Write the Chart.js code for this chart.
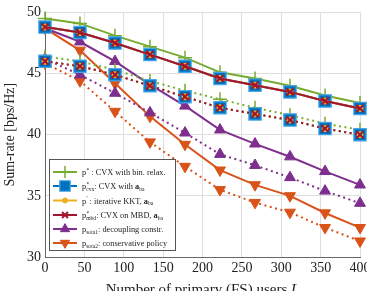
<!DOCTYPE html>
<html>
<head>
<meta charset="utf-8">
<script src="https://cdn.jsdelivr.net/npm/chart.js@4/dist/chart.umd.min.js"></script>
<style>
  html, body { margin: 0; padding: 0; background: #fff; overflow: hidden; }
  #wrap { position: relative; width: 375px; height: 300px; }
</style>
</head>
<body>
<div id="wrap"><canvas id="rateChart" width="375" height="300"></canvas></div>
<script>
// x positions: number of primary (FS) users
const users = [0, 44.4, 88.9, 133.3, 177.8, 222.2, 266.7, 311.1, 355.6, 400];

// solid = first scenario, dotted = second scenario
const pStarSolid   = [49.5, 49.1, 48.1, 47.2, 46.3, 45.1, 44.6, 44.0, 43.2, 42.6];
const pStarDotted  = [46.4, 46.0, 45.3, 44.4, 43.6, 42.9, 42.2, 41.6, 40.9, 40.4];
const pCvxSolid    = [48.8, 48.35, 47.5, 46.55, 45.6, 44.6, 44.05, 43.5, 42.75, 42.15];
const pCvxDotted   = [46.0, 45.6, 44.9, 44.0, 43.1, 42.2, 41.7, 41.2, 40.5, 40.0];
const pKktSolid    = [48.8, 48.35, 47.5, 46.55, 45.6, 44.6, 44.05, 43.5, 42.75, 42.15];
const pKktDotted   = [46.0, 45.6, 44.9, 44.0, 43.1, 42.2, 41.7, 41.2, 40.5, 40.0];
const pMbdSolid    = [48.8, 48.35, 47.5, 46.55, 45.6, 44.6, 44.05, 43.5, 42.75, 42.15];
const pMbdDotted   = [46.0, 45.6, 44.9, 44.0, 43.1, 42.2, 41.7, 41.2, 40.5, 40.0];
const pSota1Solid  = [48.7, 47.6, 46.0, 44.1, 42.35, 40.4, 39.25, 38.2, 37.0, 35.9];
const pSota1Dotted = [46.2, 44.9, 43.4, 41.8, 40.15, 38.4, 37.5, 36.5, 35.4, 34.4];
const pSota2Solid  = [48.7, 46.9, 44.2, 41.5, 39.2, 37.1, 35.9, 35.0, 33.6, 32.4];
const pSota2Dotted = [45.85, 44.4, 41.9, 39.4, 37.4, 35.5, 34.45, 33.65, 32.4, 31.3];

const green = '#77AC30', blue = '#0072BD', yellow = '#EDB120';
const red = '#A2142F', purple = '#7E2F8E', orange = '#D95319';
const serif = '"Liberation Serif", "DejaVu Serif", serif';

// marker look per method
const markers = {
  star:  { pointStyle: 'cross', pointRadius: 7, pointBorderWidth: 1.5, pointBackgroundColor: green, pointBorderColor: green },
  cvx:   { pointStyle: 'rect', pointRadius: 8.7, pointBorderWidth: 1.2, pointBackgroundColor: blue, pointBorderColor: '#45a6ea' },
  kkt:   { pointStyle: 'circle', pointRadius: 3, pointBorderWidth: 1, pointBackgroundColor: yellow, pointBorderColor: yellow },
  mbd:   { pointStyle: 'crossRot', pointRadius: 5, pointBorderWidth: 2, pointBackgroundColor: red, pointBorderColor: red },
  sota1: { pointStyle: 'triangle', pointRadius: 6.3, pointBorderWidth: 1, pointBackgroundColor: purple, pointBorderColor: purple },
  sota2: { pointStyle: 'triangle', pointRotation: 180, pointRadius: 6.3, pointBorderWidth: 1, pointBackgroundColor: orange, pointBorderColor: orange }
};

function series(values, color, kind, dotted, order) {
  return Object.assign({
    data: users.map((x, i) => ({ x: x, y: values[i] })),
    borderColor: color,
    borderWidth: 2,
    borderDash: dotted ? [2, 3.5] : [],
    tension: 0,
    fill: false,
    clip: false,
    order: order
  }, markers[kind]);
}

// lower order is drawn on top
const datasets = [
  series(pMbdSolid, red, 'mbd', false, 0),
  series(pMbdDotted, red, 'mbd', true, 1),
  series(pKktSolid, yellow, 'kkt', false, 2),
  series(pKktDotted, yellow, 'kkt', true, 3),
  series(pCvxSolid, blue, 'cvx', false, 4),
  series(pCvxDotted, blue, 'cvx', true, 5),
  series(pStarSolid, green, 'star', false, 6),
  series(pStarDotted, green, 'star', true, 7),
  series(pSota1Solid, purple, 'sota1', false, 8),
  series(pSota1Dotted, purple, 'sota1', true, 9),
  series(pSota2Solid, orange, 'sota2', false, 10),
  series(pSota2Dotted, orange, 'sota2', true, 11)
];

// legend rows: marker + text pieces (n = normal, b = bold, sup, sub, ss = stacked sup/sub)
const legendRows = [
  { color: green, kind: 'star', parts: [['n', 'p'], ['sup', '*'], ['n', ' : CVX with bin. relax.']] },
  { color: blue, kind: 'cvx', parts: [['n', 'p'], ['ss', '*', 'cvx'], ['n', ': CVX with '], ['b', 'a'], ['sub', 'ba']] },
  { color: yellow, kind: 'kkt', parts: [['n', 'p'], ['sup', "'"], ['n', ' : iterative KKT, '], ['b', 'a'], ['sub', 'ba']] },
  { color: red, kind: 'mbd', parts: [['n', 'p'], ['ss', '*', 'mbd'], ['n', ': CVX on MBD, '], ['b', 'a'], ['sub', 'ba']] },
  { color: purple, kind: 'sota1', parts: [['n', 'p'], ['sub', 'sota1'], ['n', ': decoupling constr.']] },
  { color: orange, kind: 'sota2', parts: [['n', 'p'], ['sub', 'sota2'], ['n', ': conservative policy']] }
];
const legendRowY = [172, 186, 200.5, 215, 229, 243];

function drawParts(ctx, parts, x, y, size) {
  const small = size * 0.68;
  parts.forEach(p => {
    const k = p[0];
    if (k === 'n' || k === 'b') {
      ctx.font = (k === 'b' ? 'bold ' : '') + size + 'px ' + serif;
      ctx.fillText(p[1], x, y);
      x += ctx.measureText(p[1]).width;
    } else if (k === 'sup') {
      ctx.font = small + 'px ' + serif;
      ctx.fillText(p[1], x + 0.3, y - size * 0.38);
      x += ctx.measureText(p[1]).width + 0.3;
    } else if (k === 'sub') {
      ctx.font = small + 'px ' + serif;
      ctx.fillText(p[1], x, y + size * 0.22);
      x += ctx.measureText(p[1]).width;
    } else {
      ctx.font = small + 'px ' + serif;
      ctx.fillText(p[1], x + 0.3, y - size * 0.38);
      ctx.fillText(p[2], x, y + size * 0.22);
      x += Math.max(ctx.measureText(p[1]).width, ctx.measureText(p[2]).width);
    }
  });
}

const legendPlugin = {
  id: 'boxLegend',
  afterDraw(chart) {
    const ctx = chart.ctx;
    ctx.save();
    ctx.fillStyle = '#fff';
    ctx.strokeStyle = '#555';
    ctx.lineWidth = 1;
    ctx.fillRect(49, 159, 127, 92);
    ctx.strokeRect(49.5, 159.5, 126, 91);
    legendRows.forEach((row, i) => {
      const y = legendRowY[i];
      const m = markers[row.kind];
      ctx.strokeStyle = row.color;
      ctx.lineWidth = 2;
      ctx.setLineDash([]);
      ctx.beginPath();
      ctx.moveTo(53, y);
      ctx.lineTo(77, y);
      ctx.stroke();
      ctx.fillStyle = m.pointBackgroundColor;
      ctx.strokeStyle = m.pointBorderColor;
      ctx.lineWidth = m.pointBorderWidth;
      Chart.helpers.drawPoint(ctx, {
        pointStyle: m.pointStyle,
        rotation: m.pointRotation || 0,
        radius: m.pointRadius * 0.85,
        borderWidth: m.pointBorderWidth
      }, 65, y);
      ctx.fillStyle = '#222';
      ctx.textBaseline = 'alphabetic';
      drawParts(ctx, row.parts, 82, y + 3, 8.3);
    });

    // x-axis title with italic L
    const a = chart.chartArea;
    const main = 'Number of primary (FS) users ';
    ctx.fillStyle = '#222';
    ctx.font = '15px ' + serif;
    const w1 = ctx.measureText(main).width;
    ctx.font = 'italic 15px ' + serif;
    const w2 = ctx.measureText('L').width;
    let x = (a.left + a.right) / 2 - (w1 + w2) / 2;
    ctx.font = '15px ' + serif;
    ctx.fillText(main, x, 294);
    ctx.font = 'italic 15px ' + serif;
    ctx.fillText('L', x + w1, 294);
    ctx.restore();
  }
};

new Chart(document.getElementById('rateChart'), {
  type: 'line',
  data: { datasets: datasets },
  options: {
    responsive: false,
    animation: false,
    devicePixelRatio: 1,
    layout: { padding: { top: 7, right: 15, left: 0, bottom: 0 } },
    plugins: { legend: { display: false }, tooltip: { enabled: false } },
    scales: {
      x: {
        type: 'linear',
        min: 0,
        max: 400,
        afterFit: s => { s.height = 43; },
        ticks: { stepSize: 50, padding: 3, color: '#222', font: { family: serif, size: 14 } },
        grid: { color: '#dedede', drawTicks: false },
        border: { color: '#666', width: 1 },
        title: { display: false }
      },
      y: {
        min: 30,
        max: 50,
        afterFit: s => { s.width = 45; },
        ticks: { stepSize: 5, padding: 4, color: '#222', font: { family: serif, size: 14 } },
        grid: { color: '#dedede', drawTicks: false },
        border: { color: '#666', width: 1 },
        title: {
          display: true,
          text: 'Sum-rate [bps/Hz]',
          color: '#222',
          padding: { top: 2, bottom: 0 },
          font: { family: serif, size: 14 }
        }
      }
    }
  },
  plugins: [legendPlugin]
});
</script>
</body>
</html>
